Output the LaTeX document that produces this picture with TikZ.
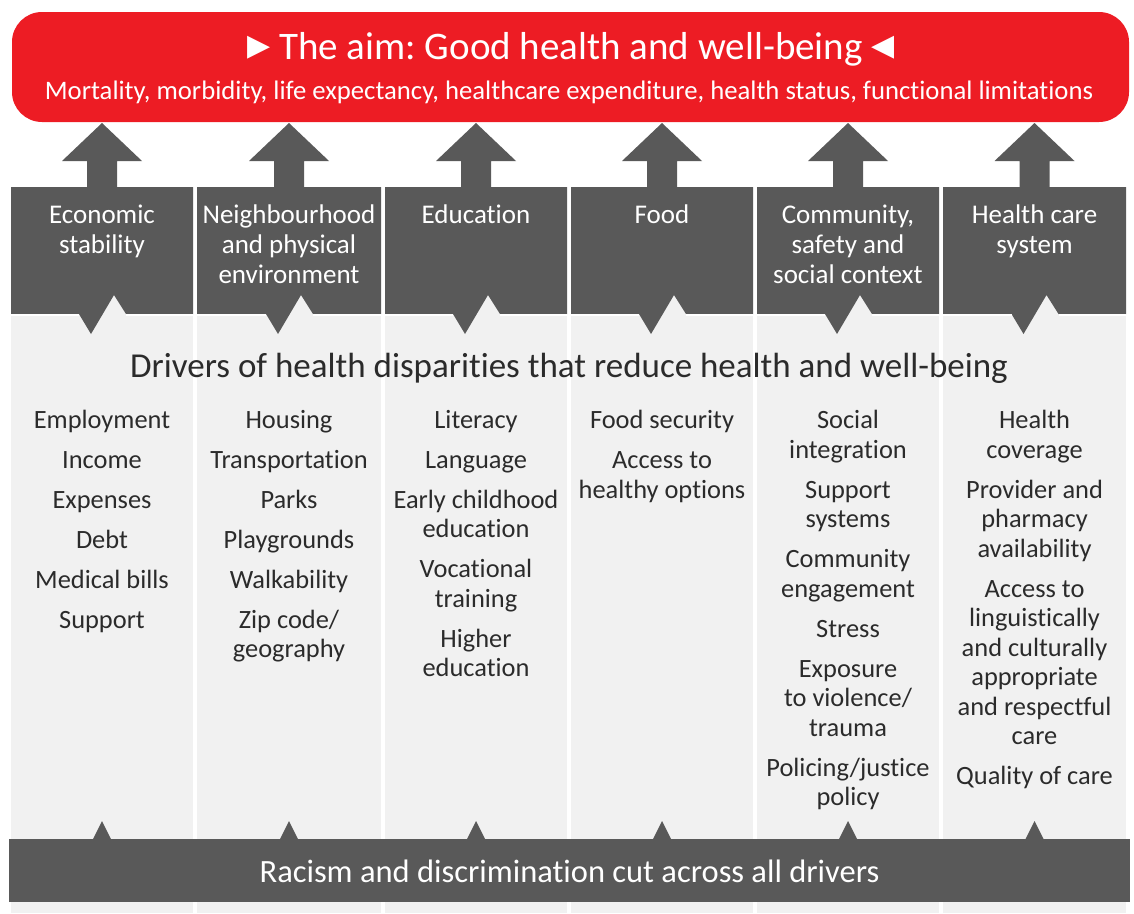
\documentclass[tikz,border=0pt]{standalone}
\usepackage{fontspec}
\setmainfont{Carlito}[Ligatures=CommonOff]
\newfontfamily\symbolfont{DejaVu Sans}
\usepackage{tikz}
\usetikzlibrary{positioning}
\frenchspacing
\definecolor{aimred}{HTML}{ED1C24}
\definecolor{boxgrey}{HTML}{595959}
\definecolor{panelgrey}{HTML}{F1F1F1}
\definecolor{textgrey}{HTML}{2B2B2B}
\tikzset{
  head text/.style={text=white, align=center, inner sep=0pt, anchor=north,
    font=\fontsize{27}{30}\selectfont},
  driver list/.style={text=textgrey, align=center, inner sep=0pt, anchor=north,
    font=\fontsize{26.4}{29.5}\selectfont},
  banner text/.style={text=#1, inner sep=0pt, anchor=base},
  banner text/.default=white
}
\newcommand{\nextdriver}{\\[10.5pt]}
\newcommand{\pointer}[1]{{\symbolfont\fontsize{30}{30}\selectfont\raisebox{4pt}{#1}}}

\begin{document}
\begin{tikzpicture}[x=1pt,y=-1pt]
    \useasboundingbox (0,0) rectangle (1134,913);
    % aim
    \fill[aimred, rounded corners=30pt] (12,12) rectangle (1129,122);
    % columns: panel, header box with notch, arrow up, small tip at the bottom
    \foreach \xa/\xb in {11/193, 197/381, 385/567, 571/753, 757/939, 943/1126} {
        \pgfmathsetmacro{\c}{(\xa+\xb)/2}
        \fill[panelgrey] (\xa,290) rectangle (\xb,913);
        \fill[boxgrey] (\xa,187) -- (\xb,187) -- (\xb,314) -- ({\c+24},314) -- ({\c+12},295)
            -- ({\c-11},334) -- ({\c-23},314) -- (\xa,314) -- cycle;
        \draw[white, line width=2pt] (\xa,315) -- ({\c-23},315) ({\c+24},315) -- (\xb,315);
        \fill[boxgrey] ({\c-15},187) -- ({\c-15},161) -- ({\c-40},161) -- (\c,123)
            -- ({\c+40},161) -- ({\c+15},161) -- ({\c+15},187) -- cycle;
        \fill[boxgrey] ({\c-9},839) -- (\c,821) -- ({\c+9},839) -- cycle;
    }
    \fill[boxgrey] (9,839) rectangle (1130,902);

    \node[banner text, font=\fontsize{39}{39}\selectfont] (aim) at (571,59)
        {\pointer{▶} The aim: Good health and well-being \pointer{◀}};
    \node[banner text, font=\fontsize{26.7}{27}\selectfont] (measures) at (569,99)
        {Mortality, morbidity, life expectancy, healthcare expenditure, health status, functional limitations};

    \node[head text] (econHead) at (102,205) {Economic\\stability};
    \node[head text] (neighHead) at (289,205) {Neighbourhood\\and physical\\environment};
    \node[head text] (eduHead) at (476,205) {Education};
    \node[head text] (foodHead) at (662,205) {Food};
    \node[head text] (commHead) at (848,205) {Community,\\safety and\\social context};
    \node[head text] (careHead) at (1034.5,205) {Health care\\system};

    \node[banner text=textgrey, font=\fontsize{35}{35}\selectfont] (drivers) at (569,377)
        {Drivers of health disparities that reduce health and well-being};

    \node[driver list] (econList) at (102,410)
        {Employment\nextdriver Income\nextdriver Expenses\nextdriver Debt\nextdriver
         Medical bills\nextdriver Support};
    \node[driver list] (neighList) at (289,410)
        {Housing\nextdriver Transportation\nextdriver Parks\nextdriver Playgrounds\nextdriver
         Walkability\nextdriver Zip code/\\geography};
    \node[driver list] (eduList) at (476,410)
        {Literacy\nextdriver Language\nextdriver Early childhood\\education\nextdriver
         Vocational\\training\nextdriver Higher\\education};
    \node[driver list] (foodList) at (662,410)
        {Food security\nextdriver Access to\\healthy options};
    \node[driver list] (commList) at (848,410)
        {Social\\integration\nextdriver Support\\systems\nextdriver Community\\engagement\nextdriver
         Stress\nextdriver Exposure\\to violence/\\trauma\nextdriver Policing/justice\\policy};
    \node[driver list] (careList) at (1034.5,410)
        {Health\\coverage\nextdriver Provider and\\pharmacy\\availability\nextdriver
         Access to\\linguistically\\and culturally\\appropriate\\and respectful\\care\nextdriver
         Quality of care};

    \node[banner text, font=\fontsize{32.5}{33}\selectfont] (racism) at (569.5,882)
        {Racism and discrimination cut across all drivers};
\end{tikzpicture}
\end{document}
